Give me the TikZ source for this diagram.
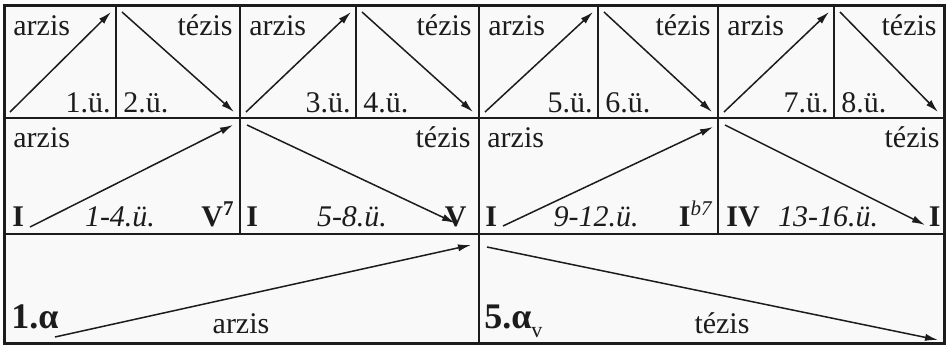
\documentclass[tikz,border=0pt]{standalone}
\usepackage{fontspec}
\setmainfont{Liberation Serif}
\usetikzlibrary{arrows.meta}
\definecolor{ink}{HTML}{1C1C1C}
\definecolor{paper}{HTML}{F9F9F9}
\tikzset{
  rule/.style={line width=1pt,draw=ink},
  frame/.style={line width=1.5pt,draw=ink,fill=paper},
  word/.style={inner sep=0pt,text=ink,font=\fontsize{15}{17}\selectfont},
  bars/.style={word,font=\fontsize{15}{17}\selectfont\itshape},
  chord/.style={word,font=\fontsize{15}{17}\selectfont\bfseries},
  period/.style={word,font=\fontsize{18}{20}\selectfont\bfseries},
  move/.style={-{Latex[length=6.5pt,width=3.6pt]},line width=0.75pt,draw=ink},
}

\begin{document}
\begin{tikzpicture}[x=0.5pt,y=-0.5pt]
  \useasboundingbox (0,0) rectangle (948,348);
  \draw[frame] (4,5) rectangle (944,343);

  % grid
  \draw[rule] (4,118) -- (944,118) (4,234) -- (944,234);
  \foreach \x in {116,240,356,479,598,718,834}
    \draw[rule] (\x,5) -- (\x,118);
  \foreach \x in {240,479,718}
    \draw[rule] (\x,118) -- (\x,234);
  \draw[rule] (479,234) -- (479,343);

  % bars: arzis / tezis pairs
  \foreach \a/\b/\c/\n/\m in {4/116/240/1/2,240/356/479/3/4,479/598/718/5/6,718/834/944/7/8}{
    \coordinate (up0\n) at (\a+6,112);
    \coordinate (up1\n) at (\b-5,12);
    \coordinate (dn0\n) at (\b+6,12);
    \coordinate (dn1\n) at (\c-6,112);
    \node[word,anchor=base west] (ua\n) at (\a+9,35) {arzis};
    \node[word,anchor=base east] (un\n) at (\b-5,112) {\n.ü.};
    \node[word,anchor=base east] (dt\n) at (\c-7,35) {tézis};
    \node[word,anchor=base west] (dn\n) at (\b+7,112) {\m.ü.};
    \draw[move] (up0\n) -- (up1\n);
    \draw[move] (dn0\n) -- (dn1\n);
  }

  % phrases
  \coordinate (p1a) at (30,227);  \coordinate (p1b) at (233,125);
  \coordinate (p2a) at (247,125); \coordinate (p2b) at (455,223);
  \coordinate (p3a) at (503,226); \coordinate (p3b) at (713,127);
  \coordinate (p4a) at (725,125); \coordinate (p4b) at (925,225);

  \node[word,anchor=base west]  (ar1) at (13,147)  {arzis};
  \node[word,anchor=base east]  (te1) at (471,147) {tézis};
  \node[word,anchor=base west]  (ar2) at (487,147) {arzis};
  \node[word,anchor=base east]  (te2) at (940,147) {tézis};

  \node[chord,anchor=base west] (c1) at (12,226)  {I};
  \node[bars,anchor=base]       (b1) at (120,226) {1-4.ü.};
  \node[chord,anchor=base east] (c2) at (235,226) {V\textsuperscript{7}};
  \node[chord,anchor=base west] (c3) at (246,226) {I};
  \node[bars,anchor=base]       (b2) at (352,226) {5-8.ü.};
  \node[chord,anchor=base east] (c4) at (467,226) {V};
  \node[chord,anchor=base west] (c5) at (485,226) {I};
  \node[bars,anchor=base]       (b3) at (596,226) {9-12.ü.};
  \node[chord,anchor=base east] (c6) at (713,226) {I\textsuperscript{\mdseries\itshape b7}};
  \node[chord,anchor=base west] (c7) at (726,226) {IV};
  \node[bars,anchor=base]       (b4) at (828,226) {13-16.ü.};
  \node[chord,anchor=base east] (c8) at (941,226) {I};

  \draw[move] (p1a) -- (p1b);
  \draw[move] (p2a) -- (p2b);
  \draw[move] (p3a) -- (p3b);
  \draw[move] (p4a) -- (p4b);

  % periods
  \coordinate (q1a) at (55,337);  \coordinate (q1b) at (471,245);
  \coordinate (q2a) at (487,247); \coordinate (q2b) at (938,340);
  \node[period,anchor=base west] (s1) at (11,328)  {1.α};
  \node[period,anchor=base west] (s2) at (484,328) {5.α\raisebox{-0.55ex}{\mdseries\fontsize{11}{13}\selectfont v}};
  \node[word,anchor=base] (ar3) at (241,333) {arzis};
  \node[word,anchor=base] (te3) at (722,333) {tézis};
  \draw[move] (q1a) -- (q1b);
  \draw[move] (q2a) -- (q2b);
\end{tikzpicture}
\end{document}
